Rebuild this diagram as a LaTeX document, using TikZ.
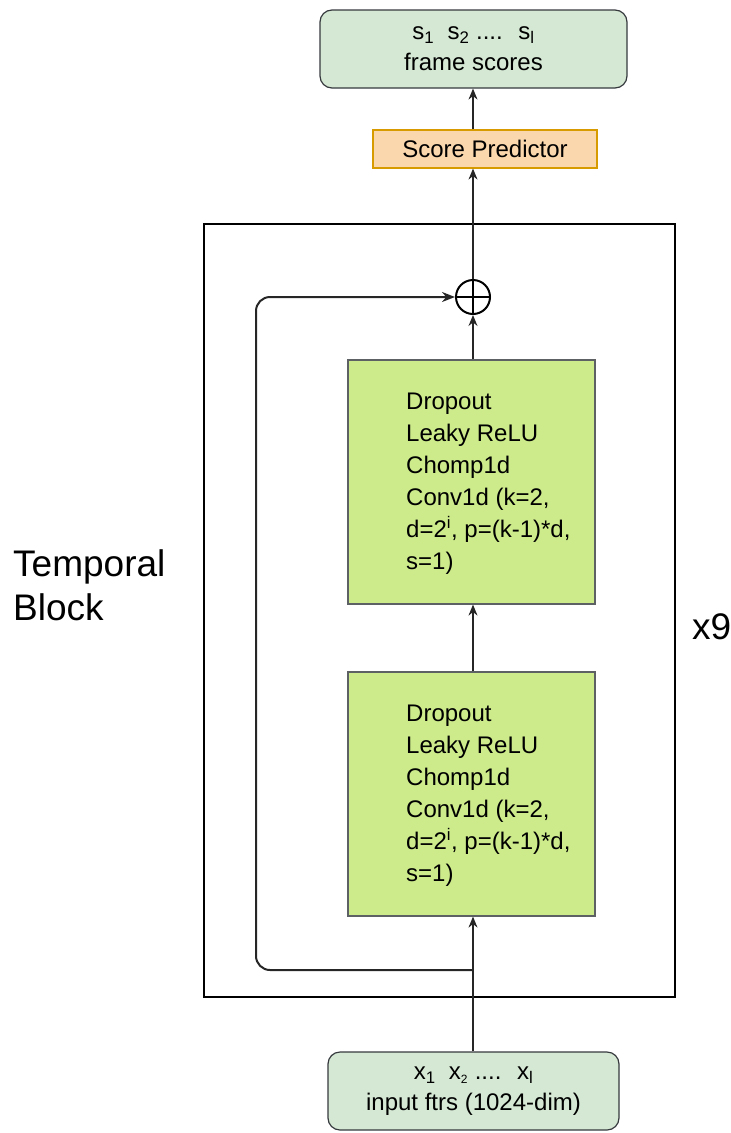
\documentclass[tikz,border=0pt]{standalone}
\usepackage{fontspec}
\setmainfont{Liberation Sans}
\usetikzlibrary{arrows.meta}

\definecolor{outgreen}{HTML}{D5E8D4}
\definecolor{convgreen}{HTML}{CDEB8B}
\definecolor{predfill}{HTML}{FAD7AC}
\definecolor{preddraw}{HTML}{D79B00}
\definecolor{edgegray}{HTML}{36393D}

\tikzset{
  iobox/.style={draw=edgegray, fill=outgreen, line width=1.2pt, rounded corners=12pt,
    minimum width=#1, minimum height=78pt, align=center, inner sep=0pt,
    font=\fontsize{24}{31}\selectfont},
  predbox/.style={draw=preddraw, fill=predfill, line width=1.2pt,
    minimum width=224pt, minimum height=38pt, inner sep=0pt,
    font=\fontsize{24}{29}\selectfont},
  convbox/.style={draw=edgegray!80, fill=convgreen, line width=1.2pt,
    minimum width=247pt, minimum height=244pt, inner sep=0pt},
  convtext/.style={align=left, inner sep=0pt, font=\fontsize{24}{32}\selectfont},
  bigtext/.style={align=left, inner sep=0pt, font=\fontsize{37}{44}\selectfont},
  flow/.style={-{Stealth[length=11pt,width=9pt]}, line width=1.2pt, draw=black!85},
  skip/.style={-{Stealth[length=13pt,width=10pt]}, line width=2pt, draw=black!85, rounded corners=14pt}
}

\begin{document}
\begin{tikzpicture}[x=1pt,y=-1pt]

\useasboundingbox (0,0) rectangle (731,1133);

% output and predictor
\node[iobox=307pt] (scores) at (473.5,49) {s\textsubscript{1}\ \ s\textsubscript{2}\ .... \ s\textsubscript{l}\\frame scores};
\node[predbox] (pred) at (485,149) {Score Predictor};

% temporal block
\node[draw, line width=2pt, minimum width=471pt, minimum height=773pt, inner sep=0pt] (tblock) at (439.5,610.5) {};
\node[bigtext, anchor=west] (tlabel) at (13,585) {Temporal\\Block};
\node[bigtext, anchor=west] (reps) at (692,627) {x9};

\node[circle, draw, line width=2pt, minimum size=34pt, inner sep=0pt] (plus) at (473,297) {};
\draw[line width=2pt] (plus.north) -- (plus.south) (plus.west) -- (plus.east);

\node[convbox] (conv2) at (471.5,482) {};
\node[convtext, anchor=north west] (conv2txt) at (406,393) {Dropout\\Leaky ReLU\\Chomp1d\\Conv1d (k=2,\\d=2\textsuperscript{i}, p=(k-1)*d,\\s=1)};

\node[convbox] (conv1) at (471.5,794) {};
\node[convtext, anchor=north west] (conv1txt) at (406,705) {Dropout\\Leaky ReLU\\Chomp1d\\Conv1d (k=2,\\d=2\textsuperscript{i}, p=(k-1)*d,\\s=1)};

% input
\node[iobox=291pt] (input) at (473.5,1091) {x\textsubscript{1}\ \ x\textsubscript{\fontsize{12}{12}\selectfont 2}\ .... \ x\textsubscript{l}\\input ftrs (1024-dim)};

\coordinate (split) at (473,970);
\coordinate (skipleft) at (256,600);

% connectors
\draw[flow] (input.north -| split) -- (conv1.south -| split);
\draw[flow] (conv1.north -| split) -- (conv2.south -| split);
\draw[flow] (conv2.north -| split) -- (plus.south);
\draw[flow] (plus.north) -- (pred.south -| plus);
\draw[flow] (pred.north -| plus) -- (scores.south -| plus);
\draw[skip] (split) -| (skipleft) |- (plus.west);

\end{tikzpicture}
\end{document}
